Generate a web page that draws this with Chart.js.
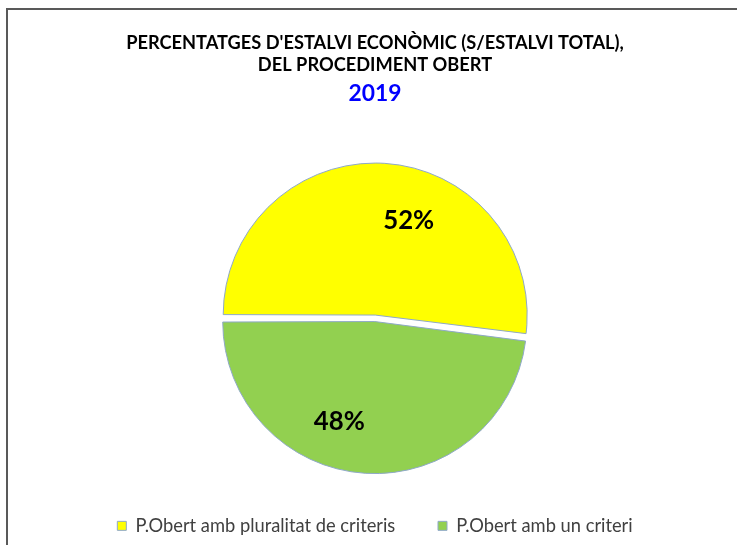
<!DOCTYPE html>
<html><head><meta charset="utf-8">
<script src="https://cdn.jsdelivr.net/npm/chart.js@4/dist/chart.umd.min.js"></script>
<style>html,body{margin:0;padding:0;background:#fff;overflow:hidden}</style>
</head><body>
<canvas id="c" width="737" height="545"></canvas>
<script>
const titleLines = ["PERCENTATGES D'ESTALVI ECONÒMIC (S/ESTALVI TOTAL),", "DEL PROCEDIMENT OBERT"];
const subtitleText = "2019";
const categories = ["P.Obert amb pluralitat de criteris", "P.Obert amb un criteri"];
const values = [52, 48];
const sliceColors = ["#FFFF00", "#92D050"];

const FONT = "Lato, 'Open Sans', sans-serif";
function fitSize(text, weight, target) {
  const c = document.createElement('canvas').getContext('2d');
  c.font = weight + ' 100px ' + FONT;
  return 100 * target / c.measureText(text).width;
}
const titleSize = fitSize(titleLines[0], 'bold', 498);
const subSize = fitSize(subtitleText, 'bold', 53);
const legendSize = fitSize(categories[0], 'normal', 260);
const labelSize = fitSize('52%', 'bold', 51);

const framePlugin = {
  id: 'frame',
  beforeDraw(chart) {
    const ctx = chart.ctx;
    ctx.save();
    ctx.fillStyle = '#fff';
    ctx.fillRect(0, 0, chart.width, chart.height);
    ctx.strokeStyle = '#595959';
    ctx.lineWidth = 2;
    ctx.beginPath();
    ctx.moveTo(7, chart.height + 2);
    ctx.lineTo(7, 9);
    ctx.lineTo(chart.width + 2, 9);
    ctx.stroke();
    ctx.restore();
  }
};

const labelPlugin = {
  id: 'pctLabels',
  afterDatasetsDraw(chart) {
    const ctx = chart.ctx;
    const meta = chart.getDatasetMeta(0);
    const total = values.reduce((a, b) => a + b, 0);
    ctx.save();
    ctx.font = 'bold ' + labelSize + 'px ' + FONT;
    ctx.fillStyle = '#000';
    ctx.textAlign = 'center';
    ctx.textBaseline = 'middle';
    meta.data.forEach((arc, i) => {
      const p = arc.getProps(['x', 'y', 'startAngle', 'endAngle', 'outerRadius'], true);
      const mid = (p.startAngle + p.endAngle) / 2;
      const off = (arc.options.offset || 0) / 4;
      const cx = p.x + Math.cos(mid) * off, cy = p.y + Math.sin(mid) * off;
      const a = mid + 16 * Math.PI / 180;
      const r = p.outerRadius * (i === 0 ? 0.67 : 0.71);
      ctx.fillText(Math.round(values[i] / total * 100) + '%', cx + Math.cos(a) * r, cy + Math.sin(a) * r);
    });
    ctx.restore();
  }
};

const defaultLabels = Chart.controllers.pie.overrides.plugins.legend.labels.generateLabels;

new Chart(document.getElementById('c'), {
  type: 'pie',
  data: {
    labels: categories,
    datasets: [{
      data: values,
      backgroundColor: sliceColors,
      borderColor: '#8FA9C8',
      borderWidth: 1,
      offset: [12, 14],
      hoverOffset: 0
    }]
  },
  options: {
    responsive: false,
    animation: false,
    devicePixelRatio: 1,
    rotation: -90,
    radius: 149,
    layout: { padding: { left: 13, right: 0, top: 0, bottom: 0 } },
    plugins: {
      title: {
        display: true, text: titleLines, color: '#000',
        font: { family: FONT, weight: 'bold', size: titleSize, lineHeight: 22 / titleSize },
        padding: { top: 32, bottom: 4 }
      },
      subtitle: {
        display: true, text: subtitleText, color: '#0000FF',
        font: { family: FONT, weight: 'bold', size: subSize, lineHeight: 1.2 },
        padding: { top: 0, bottom: 36 }
      },
      legend: {
        position: 'bottom',
        labels: {
          boxWidth: 9, boxHeight: 9, color: '#404040', padding: 24,
          font: { family: FONT, size: legendSize },
          generateLabels(chart) {
            const items = defaultLabels(chart);
            if (items.length) items[0].text = items[0].text + '    ';
            return items;
          }
        }
      },
      tooltip: { enabled: false }
    }
  },
  plugins: [framePlugin, labelPlugin]
});
</script>
</body></html>
